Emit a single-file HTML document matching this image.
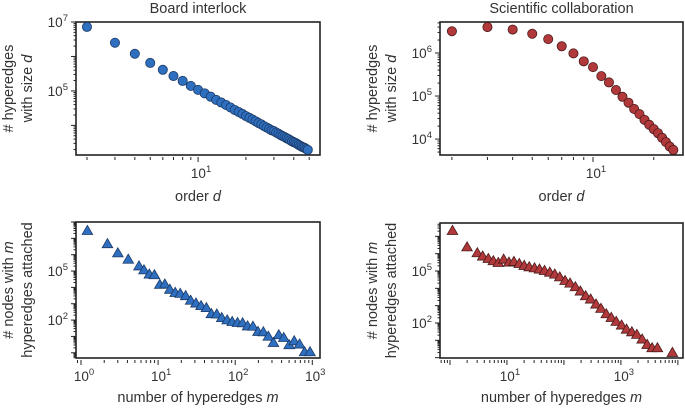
<!DOCTYPE html>
<html><head><meta charset="utf-8">
<style>
html,body{margin:0;padding:0;background:#fff;}
svg{display:block;font-family:"Liberation Sans",sans-serif;}
</style></head>
<body>
<svg id="fig" width="685" height="409" viewBox="0 0 685 409"></svg>
<script>
// ---- data ----
const boardOrders = [2,3,4,5,6,7,8,9,10,11,12,13,14,15,16,17,18,19,20,21,22,23,24,25,26,27,28,29,30,31,32,33,34,35,36,37,38,39,40,41,42,43,44,45,46,47,48,49];
const boardCounts = [7.2e6,2.5e6,1.2e6,6.5e5,4.1e5,2.7e5,1.95e5,1.4e5,1.07e5,8.5e4,6.8e4,5.5e4,4.6e4,3.9e4,3.3e4,2.8e4,2.45e4,2.15e4,1.86e4,1.66e4,1.48e4,1.32e4,1.17e4,1.07e4,9.5e3,8.7e3,7.9e3,7.2e3,6.8e3,6.2e3,5.75e3,5.25e3,4.9e3,4.6e3,4.25e3,4.0e3,3.7e3,3.45e3,3.25e3,3.1e3,2.9e3,2.7e3,2.55e3,2.4e3,2.3e3,2.2e3,2.05e3,1.95e3];
const sciOrders = [2,3,4,5,6,7,8,9,10,11,12,13,14,15,16,17,18,19,20,21,22,23,24,25];
const sciCounts = [3.2e6,4.0e6,3.5e6,2.8e6,2.1e6,1.43e6,9.8e5,6.4e5,4.7e5,2.9e5,2.07e5,1.38e5,9.6e4,7.0e4,5.0e4,3.8e4,2.8e4,2.15e4,1.7e4,1.37e4,1.07e4,8.5e3,6.7e3,5.6e3];
const boardDegLogM = [0.083,0.343,0.478,0.613,0.752,0.817,0.887,0.952,1.022,1.087,1.152,1.222,1.287,1.357,1.422,1.491,1.557,1.626,1.691,1.761,1.826,1.896,1.961,2.03,2.096,2.161,2.23,2.296,2.365,2.43,2.496,2.565,2.63,2.7,2.765,2.835,2.9,2.97];
const boardDegLogN = [7.47,6.66,6.10,5.71,5.30,5.06,4.80,4.76,4.17,4.19,3.87,3.68,3.62,3.48,3.20,3.03,2.87,2.75,2.38,2.36,2.14,2.00,1.90,1.84,1.82,1.63,1.61,1.29,1.27,1.00,0.62,1.09,0.92,0.48,0.72,0.52,0.05,0.05];
const sciDegLogM = [0.044,0.30,0.48,0.574,0.673,0.761,0.848,0.942,1.035,1.122,1.216,1.303,1.391,1.484,1.571,1.659,1.752,1.84,1.927,2.02,2.108,2.201,2.289,2.382,2.469,2.563,2.65,2.743,2.831,2.918,3.012,3.099,3.192,3.28,3.373,3.461,3.548,3.641,3.904];
const sciDegLogN = [7.33,6.38,6.04,5.85,5.71,5.58,5.48,5.67,5.50,5.54,5.42,5.31,5.23,5.17,5.10,5.02,4.92,4.81,4.65,4.44,4.29,4.08,3.83,3.56,3.37,3.08,2.83,2.52,2.31,2.08,1.87,1.63,1.48,1.33,1.06,0.75,0.56,0.56,0.29];

const NS='http://www.w3.org/2000/svg';
const svg=document.getElementById('fig');
function mk(tag,attrs,parent){const e=document.createElementNS(NS,tag);for(const k in attrs)e.setAttribute(k,attrs[k]);(parent||svg).appendChild(e);return e;}
function sup(parent,x,y,exp,anchor,name){
  const t=mk('text',{x:x,y:y,'font-size':13.5,'text-anchor':anchor,fill:'#333'},parent);
  
  
  t.appendChild(document.createTextNode('10'));
  const s=mk('tspan',{dy:-6,'font-size':9.5},t);s.textContent=exp;
  return t;
}

function panel(cfg){
  const g=mk('g',{});
  
  
  const L=cfg.x0,R=cfg.x1,T=cfg.y0,B=cfg.y1;
  const sx=v=>L+(v-cfg.xl0)/(cfg.xl1-cfg.xl0)*(R-L);
  const sy=v=>B-(v-cfg.yl0)/(cfg.yl1-cfg.yl0)*(B-T);
  for(let d=Math.floor(cfg.yl0);d<=Math.ceil(cfg.yl1);d++){
    for(let k=1;k<10;k++){
      const v=d+Math.log10(k); if(v<cfg.yl0||v>cfg.yl1)continue;
      const y=sy(v); const len=k===1?5:2.5;
      mk('line',{x1:L-len,x2:L,y1:y,y2:y,stroke:'#222','stroke-width':1},g);
    }
  }
  cfg.yLabels.forEach(e=>{sup(g,L-8,sy(e)+5,e,'end','y-tick-label');});
  for(let d=Math.floor(cfg.xl0);d<=Math.ceil(cfg.xl1);d++){
    for(let k=1;k<10;k++){
      const v=d+Math.log10(k); if(v<cfg.xl0||v>cfg.xl1)continue;
      const x=sx(v); const len=k===1?5:3;
      mk('line',{x1:x,x2:x,y1:B+2,y2:B+2+len,stroke:'#222','stroke-width':1},g);
    }
  }
  cfg.xLabels.forEach(e=>{sup(g,sx(e)+3,B+23,e,'middle','x-tick-label');});
  const fr=mk('rect',{x:L,y:T,width:R-L,height:B-T,fill:'none',stroke:'#222','stroke-width':1.6},g);
  
  
  for(let i=0;i<cfg.xs.length;i++){
    const x=sx(cfg.xs[i]),y=sy(cfg.ys[i]);
    let m;
    if(cfg.marker==='circle'){
      m=mk('circle',{cx:x,cy:y,r:4.6,fill:cfg.fill,stroke:cfg.edge,'stroke-width':0.8},g);
    } else {
      m=mk('polygon',{points:`${x},${y-5.3} ${x-5.3},${y+3.8} ${x+5.3},${y+3.8}`,fill:cfg.fill,stroke:cfg.edge,'stroke-width':0.8},g);
    }
    
    
  }
  const cy=(T+B)/2;
  cfg.yTitle.forEach((ln,j)=>{
    const t=mk('text',{x:0,y:0,'font-size':14.5,'text-anchor':'middle',fill:'#333',transform:`translate(${cfg.yTitleX+j*19},${cy}) rotate(-90)`},g);
    
    
    t.textContent=ln[0];
    if(ln[1]){const s=mk('tspan',{'font-style':'italic'},t);s.textContent=ln[1];}
  });
  const xt=mk('text',{x:(L+R)/2,y:cfg.xTitleY,'font-size':14.5,'text-anchor':'middle',fill:'#333'},g);
  
  
  xt.textContent=cfg.xTitle[0];
  const xs=mk('tspan',{'font-style':'italic'},xt);xs.textContent=cfg.xTitle[1];
  if(cfg.title){
    const tt=mk('text',{x:(L+R)/2,y:13,'font-size':14.5,'text-anchor':'middle',fill:'#333'},g);
    
    
    tt.textContent=cfg.title;
  }
}

panel({name:'board-order-panel',x0:76,x1:320,y0:22,y1:155,xl0:0.232,xl1:1.767,yl0:3.14,yl1:7,
  xs:boardOrders.map(Math.log10),ys:boardCounts.map(Math.log10),marker:'circle',fill:'#2e6fc0',edge:'#1c3a66',
  yLabels:[5,7],xLabels:[1],yTitle:[['# hyperedges'],['with size ','d']],yTitleX:13,xTitle:['order ','d'],xTitleY:201,title:'Board interlock'});
panel({name:'sci-order-panel',x0:440,x1:683,y0:22,y1:155,xl0:0.242,xl1:1.446,yl0:3.63,yl1:6.72,
  xs:sciOrders.map(Math.log10),ys:sciCounts.map(Math.log10),marker:'circle',fill:'#b2393b',edge:'#4a1a1a',
  yLabels:[4,5,6],xLabels:[1],yTitle:[['# hyperedges'],['with size ','d']],yTitleX:377,xTitle:['order ','d'],xTitleY:201,title:'Scientific collaboration'});
panel({name:'board-degree-panel',x0:76,x1:320,y0:222,y1:358,xl0:-0.065,xl1:3.1,yl0:-0.32,yl1:8,
  xs:boardDegLogM,ys:boardDegLogN,marker:'tri',fill:'#2e6fc0',edge:'#1c3a66',
  yLabels:[2,5],xLabels:[0,1,2,3],yTitle:[['# nodes with ','m'],['hyperedges attached']],yTitleX:13,xTitle:['number of hyperedges ','m'],xTitleY:402});
panel({name:'sci-degree-panel',x0:440,x1:683,y0:223,y1:358,xl0:-0.175,xl1:4.09,yl0:-0.02,yl1:7.77,
  xs:sciDegLogM,ys:sciDegLogN,marker:'tri',fill:'#b2393b',edge:'#4a1a1a',
  yLabels:[2,5],xLabels:[1,3],yTitle:[['# nodes with ','m'],['hyperedges attached']],yTitleX:377,xTitle:['number of hyperedges ','m'],xTitleY:402});
</script>
</body></html>
